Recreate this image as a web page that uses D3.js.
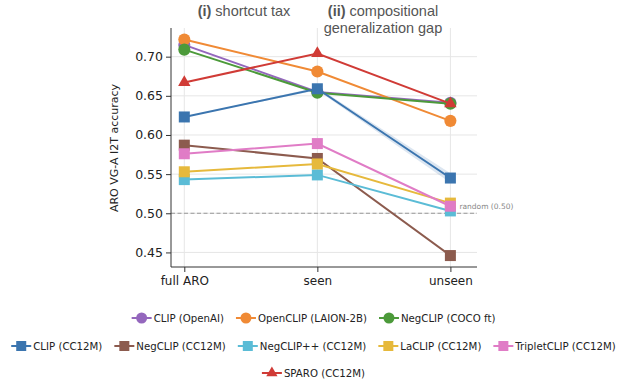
<!DOCTYPE html>
<html><head><meta charset="utf-8">
<script src="https://cdn.jsdelivr.net/npm/d3@7"></script>
<style>body{margin:0;background:#fff}svg{display:block;font-family:"DejaVu Sans",sans-serif}</style>
</head><body><svg id="c" width="627" height="381"></svg>
<script>
const categories = ["full ARO", "seen", "unseen"];
const yTicks = [0.45, 0.50, 0.55, 0.60, 0.65, 0.70];
const seriesNames = ["CLIP (OpenAI)", "OpenCLIP (LAION-2B)", "NegCLIP (COCO ft)", "CLIP (CC12M)", "NegCLIP (CC12M)", "NegCLIP++ (CC12M)", "LaCLIP (CC12M)", "TripletCLIP (CC12M)", "SPARO (CC12M)"];
const seriesColors = ["#9467bd", "#f08a35", "#4c9a3a", "#3b75af", "#8c5b4e", "#5bbcd6", "#e6b93c", "#e07cc6", "#d03b36"];
const seriesMarkers = ["circle", "circle", "circle", "square", "square", "square", "square", "square", "triangle"];
const clipOpenAI = [0.715, 0.655, 0.641];
const openCLIP = [0.722, 0.681, 0.618];
const negCLIPCoco = [0.709, 0.654, 0.640];
const clipCC12M = [0.623, 0.659, 0.545];
const negCLIPCC12M = [0.587, 0.570, 0.446];
const negCLIPpp = [0.543, 0.549, 0.503];
const laCLIP = [0.553, 0.563, 0.513];
const tripletCLIP = [0.576, 0.589, 0.509];
const sparo = [0.667, 0.704, 0.640];
const clipCC12MBand = [0.000, 0.002, 0.006];
const randomLevel = 0.50;

const seriesValues = [clipOpenAI, openCLIP, negCLIPCoco, clipCC12M, negCLIPCC12M, negCLIPpp, laCLIP, tripletCLIP, sparo];

const svg = d3.select("#c");
const L = 171, R = 477, T = 28, B = 267;
const xPos = d3.scaleLinear().domain([-0.1, 2.2]).range([L, R]);
const xc = c => xPos(categories.indexOf(c));
const y = d3.scaleLinear().domain([0.4314, 0.7366]).range([B, T]);

// grid
const g = svg.append("g");
g.selectAll(".hg").data(yTicks).join("line")
  .attr("x1", L).attr("x2", R).attr("y1", d => y(d)).attr("y2", d => y(d))
  .attr("stroke", "#e6e6e6").attr("stroke-width", 1);
g.selectAll(".vg").data(categories).join("line")
  .attr("x1", d => xc(d)).attr("x2", d => xc(d)).attr("y1", T).attr("y2", B)
  .attr("stroke", "#e6e6e6").attr("stroke-width", 1);

// random line
g.append("line").attr("x1", L).attr("x2", R).attr("y1", y(randomLevel)).attr("y2", y(randomLevel))
  .attr("stroke", "#999").attr("stroke-width", 1).attr("stroke-dasharray", "4,2.5");
g.append("text").attr("x", xc("unseen") + 9).attr("y", y(randomLevel) - 4)
  .attr("font-size", 7.5).attr("fill", "#888").text("random (0.50)");

// axes
const yAxis = d3.axisLeft(y).tickValues(yTicks).tickFormat(d3.format(".2f")).tickSize(5).tickPadding(3);
const ya = svg.append("g").attr("transform", `translate(${L},0)`).call(yAxis);
ya.attr("font-family", null);
ya.select(".domain").attr("d", `M-0,${T}V${B}`).attr("stroke", "#333");
ya.selectAll("text").attr("font-size", 12.5).attr("fill", "#222");
ya.selectAll(".tick line").attr("stroke", "#333");
const xAxis = d3.axisBottom(xPos).tickValues([0, 1, 2]).tickFormat(i => categories[i]).tickSize(5).tickPadding(4);
const xa = svg.append("g").attr("transform", `translate(0,${B})`).call(xAxis);
xa.attr("font-family", null);
xa.select(".domain").attr("d", `M${L},0H${R}`).attr("stroke", "#333");
xa.selectAll("text").attr("font-size", 12).attr("fill", "#222");
xa.selectAll(".tick line").attr("stroke", "#333");

svg.append("text").attr("transform", `translate(118,148) rotate(-90)`).attr("text-anchor", "middle")
  .attr("font-size", 11).attr("fill", "#222").text("ARO VG-A I2T accuracy");

// band for CLIP (CC12M)
const area = d3.area().x((d, i) => xPos(i)).y0((d, i) => y(d - clipCC12MBand[i])).y1((d, i) => y(d + clipCC12MBand[i]));
svg.append("path").datum(clipCC12M).attr("d", area).attr("fill", "#3b75af").attr("opacity", 0.18);

const line = d3.line().x((d, i) => xPos(i)).y(d => y(d));
function marker(sel, type, color, size) {
  if (type === "circle") sel.append("circle").attr("r", size * 0.55).attr("fill", color);
  else if (type === "square") sel.append("rect").attr("x", -size * 0.5).attr("y", -size * 0.5).attr("width", size).attr("height", size).attr("fill", color);
  else sel.append("path").attr("d", d3.symbol(d3.symbolTriangle, size * size * 0.55)()).attr("fill", color);
}
seriesValues.forEach((vals, k) => {
  const c = seriesColors[k];
  svg.append("path").datum(vals).attr("d", line).attr("fill", "none").attr("stroke", c).attr("stroke-width", 2);
  vals.forEach((v, i) => {
    const m = svg.append("g").attr("transform", `translate(${xPos(i)},${y(v)})`);
    marker(m, seriesMarkers[k], c, 11);
  });
});

// titles
const tf = "'Liberation Sans', Arial, sans-serif";
const t1 = svg.append("text").attr("x", 244).attr("y", 16).attr("text-anchor", "middle").attr("font-size", 14.5).attr("fill", "#555").style("font-family", tf);
t1.append("tspan").attr("font-weight", "bold").text("(i)");
t1.append("tspan").text(" shortcut tax");
const t2 = svg.append("text").attr("x", 383).attr("y", 16).attr("text-anchor", "middle").attr("font-size", 14.5).attr("fill", "#555").style("font-family", tf);
t2.append("tspan").attr("font-weight", "bold").text("(ii)");
t2.append("tspan").text(" compositional");
svg.append("text").attr("x", 383).attr("y", 33).attr("text-anchor", "middle").attr("font-size", 14.5).attr("fill", "#555").style("font-family", tf).text("generalization gap");

// legend
const legendRows = [[0, 1, 2], [3, 4, 5, 6, 7], [8]];
const rowY = [318, 346, 373];
const lfs = 10.2;
legendRows.forEach((row, r) => {
  const items = row.map(k => ({k, w: 0}));
  const tmp = svg.append("g");
  items.forEach(it => {
    const t = tmp.append("text").attr("font-size", lfs).text(seriesNames[it.k]);
    it.w = t.node().getComputedTextLength();
  });
  tmp.remove();
  const handle = 20, gap = 2, sep = 12;
  const total = d3.sum(items, it => handle + gap + it.w) + sep * (items.length - 1);
  let cx = 627 / 2 - total / 2;
  items.forEach(it => {
    const c = seriesColors[it.k];
    const lg = svg.append("g").attr("transform", `translate(${cx},${rowY[r]})`);
    lg.append("line").attr("x1", 0).attr("x2", handle).attr("stroke", c).attr("stroke-width", 2);
    const m = lg.append("g").attr("transform", `translate(${handle / 2},0)`);
    marker(m, seriesMarkers[it.k], c, 10);
    lg.append("text").attr("x", handle + gap).attr("y", 4).attr("font-size", lfs).attr("fill", "#222").text(seriesNames[it.k]);
    cx += handle + gap + it.w + sep;
  });
});
</script></body></html>
